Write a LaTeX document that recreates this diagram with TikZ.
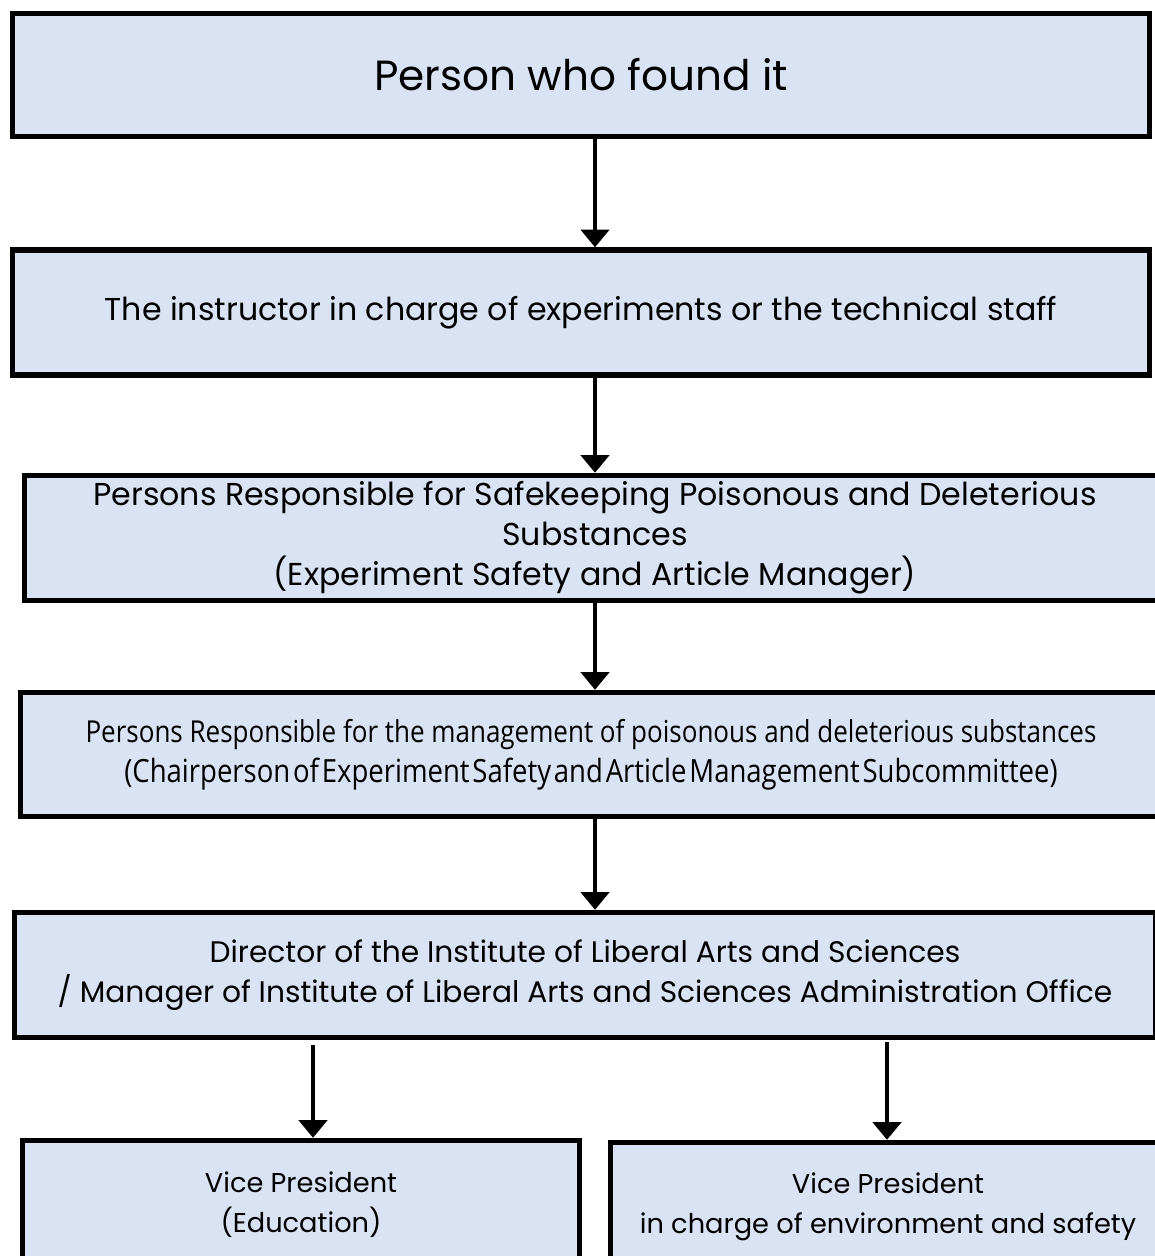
\documentclass[tikz,border=0pt]{standalone}
\usepackage{fontspec}
\setmainfont{Poppins}
\newfontfamily\narrowfont[FakeStretch=0.86]{Open Sans}
\usepackage{tikz}
\usetikzlibrary{arrows.meta,positioning}

\definecolor{boxblue}{HTML}{DAE3F3}

\tikzset{
  rolebox/.style={draw=black,line width=3.1pt,fill=boxblue,align=center,
    font=\fontsize{18}{22.7}\selectfont,inner sep=0pt},
  link/.style={-{Triangle[width=16pt,length=10pt]},line width=2.1pt}
}

\begin{document}
\begin{tikzpicture}
			\useasboundingbox (0,0) rectangle (23.1,-25.12);
			\clip (0,0) rectangle (23.1,-25.12);
			% the chain of reporting, one box per level
			\node[rolebox,minimum width=22.74cm,minimum height=2.46cm,font=\fontsize{24}{28}\selectfont] (finder) at (11.62,-1.5) {Person who found it};
			\node[rolebox,minimum width=22.74cm,minimum height=2.5cm] (instructor) at (11.62,-6.25) {The instructor in charge of experiments or the technical staff};
			\node[rolebox,minimum width=22.82cm,minimum height=2.5cm] (keeper) at (11.9,-10.76) {Persons Responsible for Safekeeping Poisonous and Deleterious\\Substances\\(Experiment Safety and Article Manager)};
			\node[rolebox,minimum width=22.82cm,minimum height=2.48cm,font=\narrowfont\fontsize{17.2}{22.7}\selectfont] (manager) at (11.82,-15.09) {Persons Responsible for the management of poisonous and deleterious substances\\{\fontsize{18.2}{22.7}\selectfont\spaceskip=1.6pt (Chairperson of Experiment Safety and Article Management Subcommittee)}};
			\node[rolebox,minimum width=22.82cm,minimum height=2.5cm,font=\fontsize{16.9}{22.7}\selectfont] (director) at (11.7,-19.5) {Director of the Institute of Liberal Arts and Sciences\\/ Manager of Institute of Liberal Arts and Sciences Administration Office};
			\node[rolebox,minimum width=11.14cm,minimum height=2.58cm,font=\fontsize{15.5}{22.7}\selectfont] (vpedu) at (6.02,-24.1) {Vice President\\(Education)};
			\node[rolebox,minimum width=11.1cm,minimum height=2.58cm,font=\fontsize{15.5}{22.7}\selectfont] (vpenv) at (17.76,-24.14) {Vice President\\in charge of environment and safety};
			% arrows between the levels
			\draw[link] (finder.south -| 11.9,0) -- (instructor.north -| 11.9,0);
			\draw[link] (instructor.south -| 11.9,0) -- (keeper.north -| 11.9,0);
			\draw[link] (keeper.south -| 11.9,0) -- (manager.north -| 11.9,0);
			\draw[link] (manager.south -| 11.9,0) -- (director.north -| 11.9,0);
			\draw[link,shorten <=0.1cm] (director.south -| 6.26,0) -- (vpedu.north -| 6.26,0);
			\draw[link,shorten <=0.04cm] (director.south -| 17.74,0) -- (vpenv.north -| 17.74,0);
\end{tikzpicture}
\end{document}
